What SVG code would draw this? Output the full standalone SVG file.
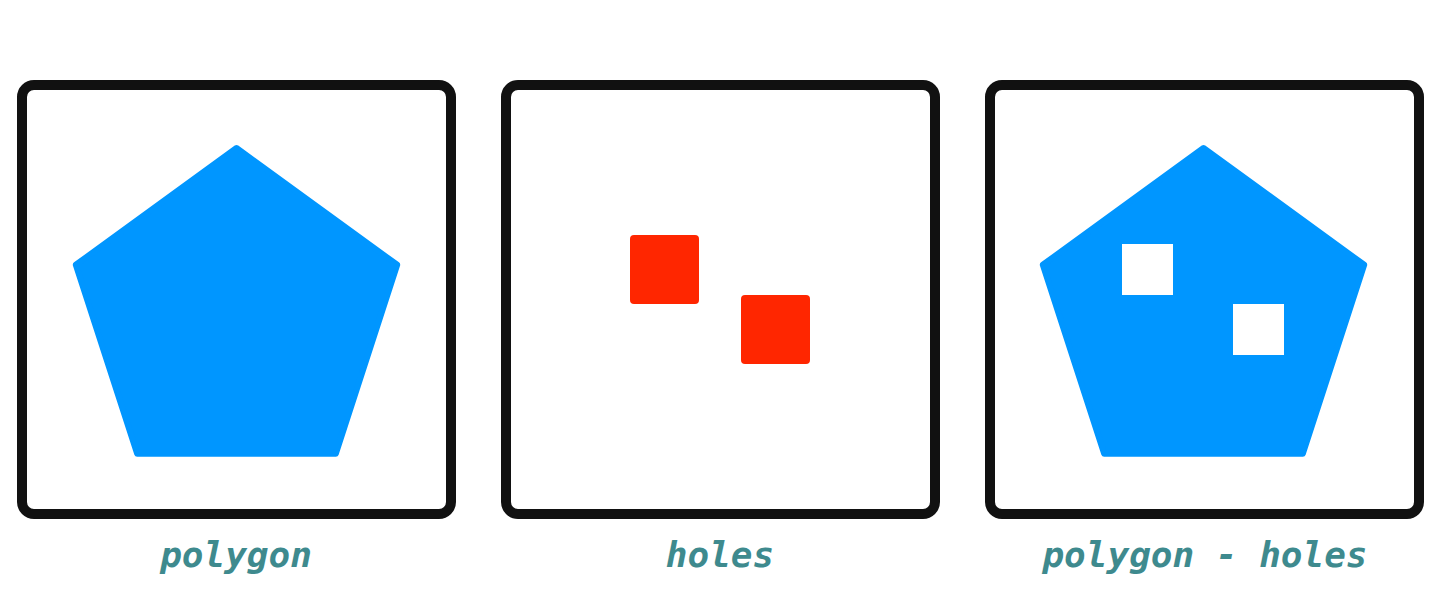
<svg xmlns="http://www.w3.org/2000/svg" width="1440" height="600" viewBox="0 0 1440 600">
  <style>
    .frame { fill: #ffffff; stroke: #111111; stroke-width: 10; }
    .poly { fill: #0096FF; stroke: #0096FF; stroke-width: 6; stroke-linejoin: round; }
    .hole { fill: #FF2600; }
    .cut { fill: #ffffff; }
    .label { font-family: "DejaVu Sans Mono", "Liberation Mono", monospace; font-weight: bold; font-style: italic; font-size: 36px; fill: #3E8A8E; text-anchor: middle; }
  </style>
  <defs>
    <polygon id="pent" points="0,-169 160.7,-52.2 99.3,136.7 -99.3,136.7 -160.7,-52.2"/>
  </defs>
  <rect width="1440" height="600" fill="#ffffff"/>
  <g id="panel-polygon">
    <rect class="frame" x="22" y="85" width="429" height="429" rx="12"/>
    <use href="#pent" class="poly" x="236.5" y="317"/>
    <text class="label" x="236" y="567">polygon</text>
  </g>
  <g id="panel-holes">
    <rect class="frame" x="506" y="85" width="429" height="429" rx="12"/>
    <rect class="hole" x="630" y="235" width="69" height="69" rx="4"/>
    <rect class="hole" x="741" y="295" width="69" height="69" rx="4"/>
    <text class="label" x="720" y="567">holes</text>
  </g>
  <g id="panel-difference">
    <rect class="frame" x="990" y="85" width="429" height="429" rx="12"/>
    <use href="#pent" class="poly" x="1203.5" y="317"/>
    <rect class="cut" x="1122" y="244" width="51" height="51"/>
    <rect class="cut" x="1233" y="304" width="51" height="51"/>
    <text class="label" x="1205" y="567">polygon - holes</text>
  </g>
</svg>
